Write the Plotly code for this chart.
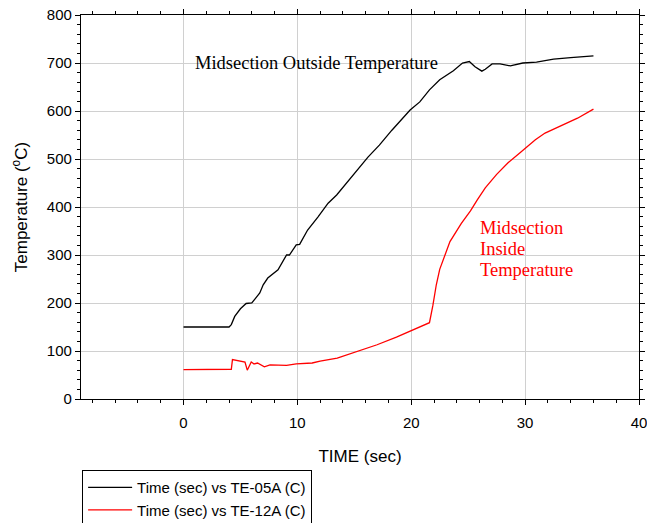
import plotly.graph_objects as go

# TE-05A (black) - Midsection Outside Temperature
t_05a = [0, 1, 2, 3, 4.0, 4.2, 4.5, 5.0, 5.5, 6.0, 6.7, 7.0, 7.4, 8.3, 9.05, 9.3, 9.9, 10.2,
         10.9, 11.8, 12.7, 13.45, 14.3, 15.3, 16.2, 17.2, 18.3, 19.9, 20.75, 21.6, 22.5,
         23.7, 24.5, 25.1, 25.6, 26.2, 26.5, 27.1, 27.8, 28.7, 29.8, 31.0, 32.5, 34.0, 36.0]
te_05a = [150, 150, 150, 150, 150, 155, 172, 188, 199, 200, 221, 238, 252, 269, 300, 300, 321, 322,
          352, 379, 408, 425, 450, 477, 504, 529, 560, 602, 619, 644, 665,
          684, 700, 703, 692, 683, 687, 698, 698, 694, 700, 702, 708, 711, 715]

# TE-12A (red) - Midsection Inside Temperature
t_12a = [0, 1, 2, 3, 4.2, 4.3, 4.9, 5.4, 5.6, 5.95, 6.2, 6.5, 7.1, 7.6, 9.05, 9.9, 11.3, 12.0,
         13.5, 15.2, 17.0, 18.7, 20.0, 21.6, 21.9, 22.2, 22.5, 22.8, 23.4, 24.4, 25.2, 25.8,
         26.5, 27.5, 28.5, 29.5, 30.9, 31.75, 33.1, 34.6, 36.0]
te_12a = [61, 61, 61, 61, 62, 82, 79, 77, 60, 77, 73, 75, 67, 71, 70, 73, 75, 79,
          85, 98, 113, 129, 142, 159, 195, 238, 270, 290, 328, 366, 392, 415,
          440, 468, 492, 512, 540, 554, 569, 585, 604]

x_ticks = [0, 10, 20, 30, 40]
y_ticks = [0, 100, 200, 300, 400, 500, 600, 700, 800]

outside_label = "Midsection Outside Temperature"
inside_label_lines = ["Midsection", "Inside", "Temperature"]
inside_label_y = [356, 312, 268]

FONT = "Liberation Sans, Arial, sans-serif"
SERIF = "Liberation Serif, Times New Roman, serif"

fig = go.Figure()
fig.add_trace(go.Scatter(x=t_05a, y=te_05a, mode="lines", name="Time (sec) vs TE-05A (C)",
                         line=dict(color="black", width=1.3)))
fig.add_trace(go.Scatter(x=t_12a, y=te_12a, mode="lines", name="Time (sec) vs TE-12A (C)",
                         line=dict(color="red", width=1.3)))

fig.add_annotation(x=0.85, y=700, xref="x", yref="y", text=outside_label,
                   showarrow=False, xanchor="left", yanchor="middle",
                   font=dict(family=SERIF, size=18.5, color="black"))
for line_text, ly in zip(inside_label_lines, inside_label_y):
    fig.add_annotation(x=25.9, y=ly, xref="x", yref="y", text=line_text,
                       showarrow=False, xanchor="left", yanchor="middle", align="left",
                       font=dict(family=SERIF, size=18.5, color="red"))

axis_common = dict(showline=True, linecolor="black", linewidth=1.2, mirror="allticks",
                   ticks="outside", ticklen=5, tickcolor="black", tickwidth=1,
                   showgrid=True, gridcolor="#d0d0d0", gridwidth=1, zeroline=False,
                   automargin=False, ticklabeloverflow="allow",
                   tickfont=dict(family=FONT, size=15, color="black"))

fig.update_xaxes(range=[-9, 40], tickvals=x_ticks, ticktext=[str(v) for v in x_ticks],
                 minor=dict(dtick=2, tick0=0, ticklen=3, ticks="outside", tickcolor="black",
                            showgrid=False),
                 ticklabelstandoff=5,
                 title=dict(text="TIME (sec)", font=dict(family=FONT, size=17, color="black"),
                            standoff=20),
                 **axis_common)
fig.update_yaxes(range=[0, 800], tickvals=y_ticks, ticktext=[str(v) for v in y_ticks],
                 minor=dict(dtick=20, tick0=0, ticklen=3, ticks="outside", tickcolor="black",
                            showgrid=False),
                 title=dict(text="Temperature (<sup>o</sup>C)",
                            font=dict(family=FONT, size=17, color="black"), standoff=14),
                 **axis_common)

fig.update_layout(
    width=647, height=523,
    margin=dict(l=81, r=8, t=15, b=124, autoexpand=False),
    paper_bgcolor="white", plot_bgcolor="white",
    showlegend=True,
    legend=dict(x=0.002, y=-0.185, xanchor="left", yanchor="top",
                bordercolor="black", borderwidth=1, bgcolor="white",
                font=dict(family=FONT, size=15, color="black"),
                tracegroupgap=0, itemwidth=44),
)

fig.write_html("out.html", config={"displayModeBar": False},
               post_script="document.body.style.margin='0px';")
